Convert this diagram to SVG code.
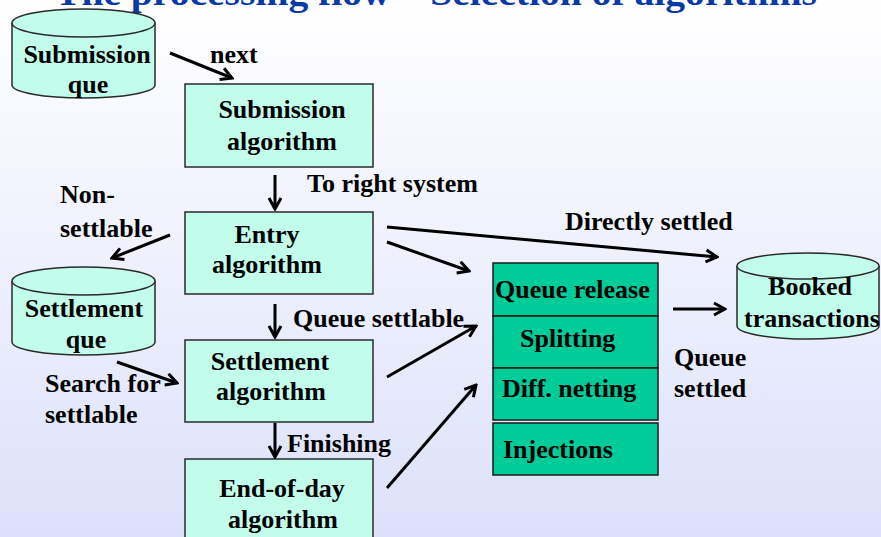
<svg xmlns="http://www.w3.org/2000/svg" width="881" height="537" viewBox="0 0 881 537">
  <defs>
    <linearGradient id="bg" x1="0" y1="0" x2="0" y2="1">
      <stop offset="0" stop-color="#ffffff"/>
      <stop offset="1" stop-color="#dce1fa"/>
    </linearGradient>
    <marker id="ah" markerUnits="userSpaceOnUse" markerWidth="16" markerHeight="16" viewBox="0 0 16 16" refX="14" refY="8" orient="auto">
      <path d="M3,2 L14,8 L3,14" fill="none" stroke="#000" stroke-width="3"/>
    </marker>
  </defs>
  <style>
    .t { font-family: "Liberation Serif", "Times New Roman", serif; font-weight: bold; font-size: 26px; fill: #000; }
    .c { text-anchor: middle; }
    .box { fill: #c2fdec; stroke: #2a2a2a; stroke-width: 1.5; }
    .stk { fill: #00cc99; stroke: #1a1a1a; stroke-width: 1.5; }
    .cyl { fill: #c2fdec; stroke: #2a2a2a; stroke-width: 1.5; }
    .conn line { stroke: #000; stroke-width: 3; marker-end: url(#ah); }
    .title { font-family: "Liberation Serif", "Times New Roman", serif; font-weight: bold; font-size: 36px; fill: #0a3aa6; }
  </style>
  <rect x="0" y="0" width="881" height="537" fill="url(#bg)"/>
  <text class="title" x="55" y="5" textLength="762" lengthAdjust="spacingAndGlyphs">The processing flow – Selection of algorithms</text>

  <g id="submission-que">
    <path class="cyl" d="M12,23 V85 A71.5,13 0 0 0 155,85 V23"/>
    <ellipse class="cyl" cx="83.5" cy="23" rx="71.5" ry="14"/>
    <text class="t c" x="87" y="63">Submission</text>
    <text class="t c" x="88" y="93">que</text>
  </g>

  <g id="submission-algorithm">
    <rect class="box" x="185" y="84" width="188" height="83"/>
    <text class="t c" x="282" y="118">Submission</text>
    <text class="t c" x="282" y="150">algorithm</text>
  </g>

  <g id="entry-algorithm">
    <rect class="box" x="185" y="212" width="188" height="82"/>
    <text class="t c" x="267" y="243">Entry</text>
    <text class="t c" x="267" y="273">algorithm</text>
  </g>

  <g id="settlement-que">
    <path class="cyl" d="M12,281 V342 A71.5,13 0 0 0 155,342 V281"/>
    <ellipse class="cyl" cx="83.5" cy="281" rx="71.5" ry="14"/>
    <text class="t c" x="84" y="317">Settlement</text>
    <text class="t c" x="86" y="348">que</text>
  </g>

  <g id="settlement-algorithm">
    <rect class="box" x="185" y="340" width="188" height="82"/>
    <text class="t c" x="270" y="370">Settlement</text>
    <text class="t c" x="271" y="400">algorithm</text>
  </g>

  <g id="end-of-day-algorithm">
    <rect class="box" x="185" y="459" width="188" height="90"/>
    <text class="t c" x="282" y="497">End-of-day</text>
    <text class="t c" x="283" y="528">algorithm</text>
  </g>

  <g id="algorithm-stack">
    <rect class="stk" x="493" y="263" width="165" height="53"/>
    <rect class="stk" x="493" y="316" width="165" height="52"/>
    <rect class="stk" x="493" y="368" width="165" height="52"/>
    <rect class="stk" x="493" y="423" width="165" height="52"/>
    <text class="t" x="495" y="298">Queue release</text>
    <text class="t" x="520" y="347">Splitting</text>
    <text class="t" x="502" y="397">Diff. netting</text>
    <text class="t" x="503" y="458">Injections</text>
  </g>

  <g id="booked-transactions">
    <path class="cyl" d="M737,266 V326 A71,13 0 0 0 879,326 V266"/>
    <ellipse class="cyl" cx="808" cy="266" rx="71" ry="13"/>
    <text class="t c" x="810" y="295">Booked</text>
    <text class="t c" x="812" y="327">transactions</text>
  </g>

  <g id="connectors" class="conn">
    <line x1="170" y1="53" x2="232" y2="78"/>
    <line x1="275" y1="175" x2="275" y2="209"/>
    <line x1="170" y1="235" x2="112" y2="258"/>
    <line x1="275" y1="304" x2="275" y2="337"/>
    <line x1="117" y1="362" x2="177" y2="383"/>
    <line x1="275" y1="423" x2="275" y2="457"/>
    <line x1="387" y1="242" x2="469" y2="271"/>
    <line x1="387" y1="377" x2="476" y2="326"/>
    <line x1="387" y1="488" x2="476" y2="385"/>
    <line x1="387" y1="227" x2="717" y2="257"/>
    <line x1="673" y1="309" x2="725" y2="309"/>
  </g>

  <g id="labels">
    <text class="t" x="210" y="63">next</text>
    <text class="t" x="307" y="192">To right system</text>
    <text class="t" x="60" y="203">Non-</text>
    <text class="t" x="60" y="237">settlable</text>
    <text class="t" x="293" y="327">Queue settlable</text>
    <text class="t" x="45" y="392">Search for</text>
    <text class="t" x="45" y="423">settlable</text>
    <text class="t" x="287" y="452">Finishing</text>
    <text class="t" x="565" y="230">Directly settled</text>
    <text class="t" x="674" y="366">Queue</text>
    <text class="t" x="674" y="397">settled</text>
  </g>
</svg>
